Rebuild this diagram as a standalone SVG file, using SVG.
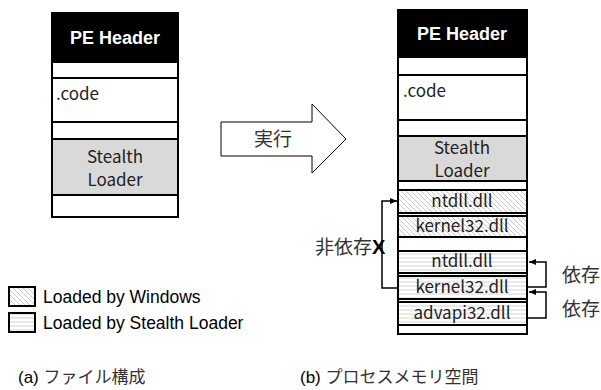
<svg xmlns="http://www.w3.org/2000/svg" width="601" height="390" viewBox="0 0 601 390">
<style>
.frame{fill:#fff;stroke:#000;stroke-width:2}
.blk{fill:#000;stroke:#000;stroke-width:2}
.sec{fill:#fff;stroke:#000;stroke-width:2}
.gray{fill:#d9d9d9;stroke:#000;stroke-width:2}
.win{fill:url(#diag);stroke:#000;stroke-width:2}
.sl{fill:url(#horiz);stroke:#000;stroke-width:2}
.hdr{font-family:"Liberation Sans",Arial,sans-serif;font-weight:bold;font-size:18px;fill:#fff;text-anchor:middle}
.bt{font-family:"Noto Sans CJK JP",sans-serif;font-size:17px;fill:#222}
.c{text-anchor:middle}
.jp{font-family:"Noto Sans CJK JP",sans-serif;font-size:19px;fill:#333}
.lg{font-family:"Liberation Sans",Arial,sans-serif;font-size:17.5px;fill:#000}
.cap{font-family:"Liberation Sans","Noto Sans CJK JP",sans-serif;font-size:17px;fill:#000}
.con{fill:none;stroke:#000;stroke-width:1.5}
</style>
<defs>
<pattern id="diag" width="5" height="5" patternUnits="userSpaceOnUse">
<rect width="5" height="5" fill="#fff"/>
<path d="M-1,-1 L6,6 M-1,4 L1,6 M4,-1 L6,1" stroke="#bdbdbd" stroke-width="0.8"/>
</pattern>
<pattern id="horiz" width="4" height="4" patternUnits="userSpaceOnUse">
<rect width="4" height="4" fill="#fff"/>
<path d="M0,2 L4,2" stroke="#c8c8c8" stroke-width="0.8"/>
</pattern>
<marker id="ah" markerWidth="8" markerHeight="8" refX="7" refY="4" orient="auto" markerUnits="userSpaceOnUse">
<path d="M0,1 L7,4 L0,7 Z" fill="#000"/>
</marker>
</defs>

<g id="file-layout">
<rect class="frame" x="52" y="13" width="126" height="204"/>
<rect class="blk" x="52" y="13" width="126" height="49"/>
<text class="hdr" x="115" y="44">PE Header</text>
<rect class="sec" x="52" y="78" width="126" height="44"/>
<text class="bt" x="56" y="100">.code</text>
<rect class="gray" x="52" y="139" width="126" height="56"/>
<text class="bt c" x="115" y="163">Stealth</text>
<text class="bt c" x="115" y="186">Loader</text>
</g>

<g id="exec-arrow">
<polygon points="221,122 312,122 312,104 346,139 312,173 312,156 221,156" fill="#fff" stroke="#000" stroke-width="1"/>
<text class="jp c" x="273" y="146">実行</text>
</g>

<g id="process-memory">
<rect class="frame" x="398" y="10" width="129" height="324"/>
<rect class="blk" x="398" y="10" width="129" height="47"/>
<text class="hdr" x="462" y="40">PE Header</text>
<rect class="sec" x="398" y="75" width="129" height="45"/>
<text class="bt" x="403" y="97">.code</text>
<rect class="gray" x="398" y="136" width="129" height="45"/>
<text class="bt c" x="462" y="154">Stealth</text>
<text class="bt c" x="462" y="177">Loader</text>
</g>

<g id="ntdll-win">
<rect class="win" x="398" y="190" width="129" height="23"/>
<text class="bt c" x="462" y="207">ntdll.dll</text>
</g>
<g id="kernel32-win">
<rect class="win" x="398" y="216" width="129" height="21"/>
<text class="bt c" x="462" y="232">kernel32.dll</text>
</g>
<g id="ntdll-sl">
<rect class="sl" x="398" y="251" width="129" height="22"/>
<text class="bt c" x="462" y="267">ntdll.dll</text>
</g>
<g id="kernel32-sl">
<rect class="sl" x="398" y="276" width="129" height="23"/>
<text class="bt c" x="462" y="293">kernel32.dll</text>
</g>
<g id="advapi32-sl">
<rect class="sl" x="398" y="302" width="129" height="23"/>
<text class="bt c" x="462" y="319">advapi32.dll</text>
</g>

<g id="connectors">
<path class="con" d="M398,288 L382,288 L382,201 L397,201" marker-end="url(#ah)"/>
<path class="con" d="M527,287 L546,287 L546,262 L529,262" marker-end="url(#ah)"/>
<path class="con" d="M527,318 L546,318 L546,292 L529,292" marker-end="url(#ah)"/>
</g>

<g id="labels">
<text class="jp" x="315" y="254">非依存<tspan font-family="Liberation Sans,Arial,sans-serif" font-weight="bold" font-size="20" fill="#000">X</tspan></text>
<text class="jp" x="562" y="282">依存</text>
<text class="jp" x="562" y="316">依存</text>
</g>

<g id="legend">
<rect class="win" x="9" y="287" width="26" height="19"/>
<text class="lg" x="43" y="303">Loaded by Windows</text>
<rect class="sl" x="9" y="313" width="26" height="19"/>
<text class="lg" x="43" y="329">Loaded by Stealth Loader</text>
</g>

<g id="captions">
<text class="cap" x="18" y="383">(a) <tspan font-family="Noto Sans CJK JP,sans-serif" fill="#333">ファイル構成</tspan></text>
<text class="cap" x="300" y="383">(b) <tspan font-family="Noto Sans CJK JP,sans-serif" fill="#333">プロセスメモリ空間</tspan></text>
</g>
</svg>
